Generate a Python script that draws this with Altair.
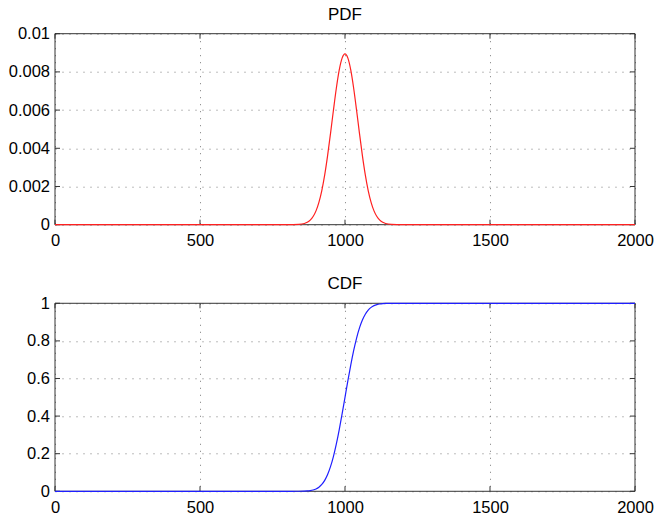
import altair as alt
import pandas as pd

# ---- data ----
x_ticks = [0, 500, 1000, 1500, 2000]
pdf_ticks = [0, 0.002, 0.004, 0.006, 0.008, 0.01]
cdf_ticks = [0, 0.2, 0.4, 0.6, 0.8, 1]

x_vals = [0, 700, 800, 820, 840, 860, 870, 880, 890, 900, 910, 920, 930, 940,
          950, 960, 970, 980, 990, 1000, 1010, 1020, 1030, 1040, 1050, 1060,
          1070, 1080, 1090, 1100, 1110, 1120, 1130, 1140, 1160, 1180, 1200,
          1300, 2000]

pdf_vals = [0, 0, 0, 0.000003, 0.000014, 0.000065, 0.000128, 0.00024, 0.000427,
            0.000724, 0.00117, 0.00179, 0.00261, 0.00362, 0.00477, 0.00598,
            0.00713, 0.00809, 0.00872, 0.00894, 0.00872, 0.00809, 0.00713,
            0.00598, 0.00477, 0.00362, 0.00261, 0.00179, 0.00117, 0.000724,
            0.000427, 0.00024, 0.000128, 0.000065, 0.000014, 0.000003, 0, 0, 0]

cdf_vals = [0, 0, 0, 0.00003, 0.00017, 0.00085, 0.0018, 0.0036, 0.0068, 0.0125,
            0.0218, 0.0364, 0.0582, 0.0893, 0.1311, 0.1849, 0.2505, 0.3270,
            0.4113, 0.5, 0.5887, 0.6730, 0.7495, 0.8151, 0.8689, 0.9107,
            0.9418, 0.9636, 0.9782, 0.9875, 0.9932, 0.9964, 0.9982, 0.99915,
            0.99983, 0.99997, 1, 1, 1]

W = 580
FRAME = "#333333"
TICK = 5


def panel(title, y_vals, y_ticks, color, H):
    df = pd.DataFrame({"x": x_vals, "y": y_vals})
    xs = alt.Scale(domain=[x_ticks[0], x_ticks[-1]], nice=False, zero=False)
    ys = alt.Scale(domain=[y_ticks[0], y_ticks[-1]], nice=False, zero=False)
    xa = alt.Axis(values=x_ticks, title=None, labelPadding=8, format="d")
    ya = alt.Axis(values=y_ticks, title=None, labelPadding=5.5, format="~g")
    one = alt.Data(values=[{"a": 1}])
    xt = alt.Data(values=[{"x": v} for v in x_ticks])
    yt = alt.Data(values=[{"y": v} for v in y_ticks])

    line = alt.Chart(df).mark_line(color=color, strokeWidth=1.2, interpolate="monotone").encode(
        x=alt.X("x:Q", scale=xs, axis=xa),
        y=alt.Y("y:Q", scale=ys, axis=ya),
    )
    frame = [
        alt.Chart(one).mark_rule(color=FRAME, strokeWidth=1).encode(
            x=alt.value(0), x2=alt.value(W), y=alt.value(0)),
        alt.Chart(one).mark_rule(color=FRAME, strokeWidth=1).encode(
            x=alt.value(0), x2=alt.value(W), y=alt.value(H)),
        alt.Chart(one).mark_rule(color=FRAME, strokeWidth=1).encode(
            x=alt.value(0), y=alt.value(0), y2=alt.value(H)),
        alt.Chart(one).mark_rule(color=FRAME, strokeWidth=1).encode(
            x=alt.value(W), y=alt.value(0), y2=alt.value(H)),
    ]
    ticks = [
        alt.Chart(xt).mark_rule(color=FRAME).encode(
            x=alt.X("x:Q", scale=xs, axis=xa), y=alt.value(H), y2=alt.value(H - TICK)),
        alt.Chart(xt).mark_rule(color=FRAME).encode(
            x=alt.X("x:Q", scale=xs, axis=xa), y=alt.value(0), y2=alt.value(TICK)),
        alt.Chart(yt).mark_rule(color=FRAME).encode(
            y=alt.Y("y:Q", scale=ys, axis=ya), x=alt.value(0), x2=alt.value(TICK)),
        alt.Chart(yt).mark_rule(color=FRAME).encode(
            y=alt.Y("y:Q", scale=ys, axis=ya), x=alt.value(W), x2=alt.value(W - TICK)),
    ]
    return alt.layer(*frame, *ticks, line).properties(
        width=W, height=H,
        title=alt.TitleParams(title, fontSize=17, font="Liberation Sans", fontWeight="normal",
                              color="#000000", anchor="middle", baseline="alphabetic", offset=-11),
    )


top = panel("PDF", pdf_vals, pdf_ticks, "#ff2020", 191)
bottom = panel("CDF", cdf_vals, cdf_ticks, "#1f1fff", 188)

chart = alt.vconcat(top, bottom, spacing=78.6, bounds="flush").properties(
    padding={"left": 8, "top": 5.7, "right": 0, "bottom": 0}
).configure_view(stroke=None).configure_axis(
    domain=False, ticks=False, grid=True, gridColor="#7a7a7a", gridDash=[1, 6],
    gridWidth=1, gridOpacity=1, labelFont="Liberation Sans", labelFontSize=16.5,
    labelColor="#000000", labelFlush=False, labelOverlap=False,
)

chart.save("out.html", embed_options={"renderer": "svg", "actions": False})
